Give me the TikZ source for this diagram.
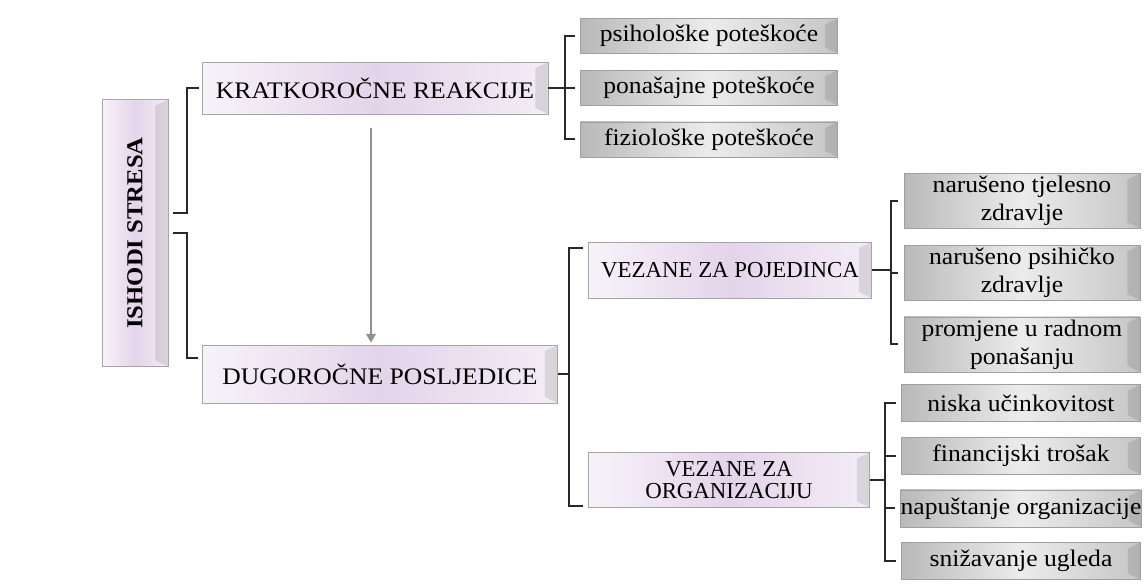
\documentclass[tikz,border=0pt]{standalone}
\usepackage{fontspec}
\setmainfont{Liberation Serif}[FakeStretch=1.08]
\newfontfamily\plainserif{Liberation Serif}
\usetikzlibrary{arrows.meta, positioning}
\definecolor{lav}{RGB}{228,212,234}
\definecolor{lavlight}{RGB}{247,243,249}
\definecolor{linegray}{RGB}{40,40,40}
\definecolor{flowgray}{RGB}{140,152,140}

\begin{document}
\begin{tikzpicture}[
    x=0.02cm, y=-0.02cm,
    font=\fontsize{13.5}{16}\selectfont,
    bevel/.style={path picture={\fill[black, opacity=0.1] (path picture bounding box.north east) -- ([xshift=-0.25cm,yshift=-0.12cm]path picture bounding box.north east) -- ([xshift=-0.25cm,yshift=0.12cm]path picture bounding box.south east) -- (path picture bounding box.south east) -- cycle;}},
    main/.style={draw=gray!70, left color=lavlight, right color=lavlight!80!lav, middle color=lav, align=center, inner sep=2pt, bevel},
    caps/.style={main, font=\plainserif\fontsize{13}{13}\selectfont},
    sub/.style={draw=gray!75, left color=gray!55, right color=gray!45, middle color=gray!15, align=center, inner ysep=1pt, inner xsep=0pt, bevel},
    small/.style={sub, minimum width=5.14cm, minimum height=0.7cm},
    tall/.style={sub, minimum width=4.72cm, minimum height=1.1cm},
    low/.style={sub, minimum width=4.78cm, minimum height=0.74cm},
    conn/.style={draw=linegray, line width=1.1pt},
    flow/.style={draw=flowgray, line width=1.7pt, -{Triangle[length=5pt,width=5.5pt]}},
]
    \fill[white] (0,0) rectangle (1144,584);
    \useasboundingbox (0,0) rectangle (1144,584);

    \node[main, minimum width=1.32cm, minimum height=5.34cm, font=\fontsize{13}{16}\selectfont] (ishodi) at (135,233) {\rotatebox{90}{\textbf{ISHODI STRESA}}};
    \node[main, minimum width=6.92cm, minimum height=1.04cm] (kratko) at (375,88) {KRATKOROČNE REAKCIJE};
    \node[main, minimum width=7.1cm, minimum height=1.16cm] (dugo) at (380,374) {DUGOROČNE POSLJEDICE};
    \node[caps, minimum width=5.66cm, minimum height=1.12cm] (vpoj) at (730,270) {VEZANE ZA POJEDINCA};
    \node[caps, minimum width=5.62cm, minimum height=1.1cm] (vorg) at (729,480) {VEZANE ZA\\ORGANIZACIJU};

    \node[small] (psih) at (709,36) {psihološke poteškoće};
    \node[small, below=0.32cm of psih] (pona) {ponašajne poteškoće};
    \node[small, below=0.32cm of pona] (fizi) {fiziološke poteškoće};

    \node[tall] (tjel) at (1022,201) {narušeno tjelesno\\zdravlje};
    \node[tall, below=0.32cm of tjel] (psihz) {narušeno psihičko\\zdravlje};
    \node[tall, below=0.32cm of psihz] (radn) {promjene u radnom\\ponašanju};

    \node[low] (nisk) at (1021,403) {niska učinkovitost};
    \node[low, below=0.3cm of nisk] (fina) {financijski trošak};
    \node[low, below=0.3cm of fina] (napu) {napuštanje organizacije};
    \node[low, below=0.3cm of napu] (sniz) {snižavanje ugleda};

    \coordinate (s1) at (187,213);
    \coordinate (s2) at (187,233);
    \coordinate (dtop) at ([yshift=-0.26cm]dugo.north west);
    \draw[conn, shorten <=0.1cm, shorten >=1.5pt] (ishodi.east |- s1) -- (s1) |- (kratko.west);
    \draw[conn, shorten <=0.1cm, shorten >=0.08cm] (ishodi.east |- s2) -- (s2) |- (dtop);

    \coordinate (ar) at ([xshift=-0.08cm]kratko.south);
    \draw[flow, shorten <=0.28cm, shorten >=0.04cm] (ar) -- (ar |- dugo.north);

    \coordinate (s3) at (565,88);
    \draw[conn] (kratko.east) -- (kratko.east -| s3);
    \draw[conn, shorten <=3pt, shorten >=3pt] (psih.west) -- (psih.west -| s3) -- (fizi.west -| s3) -- (fizi.west);
    \draw[conn, shorten >=3pt] (pona.west -| s3) -- (pona.west);

    \coordinate (s4) at (569,374);
    \coordinate (ptop) at ([yshift=-0.12cm]vpoj.north west);
    \coordinate (pbot) at ([yshift=0.04cm]vorg.south west);
    \draw[conn] (dugo.east) -- (dugo.east -| s4);
    \draw[conn, shorten <=3pt, shorten >=3pt] (ptop) -- (ptop -| s4) -- (pbot -| s4) -- (pbot);

    \coordinate (s5) at (891,272);
    \draw[conn] (vpoj.east) -- (vpoj.east -| s5);
    \draw[conn, shorten <=3pt, shorten >=3pt] (tjel.west) -- (tjel.west -| s5) -- (radn.west -| s5) -- (radn.west);
    \draw[conn, shorten >=3pt] (psihz.west -| s5) -- (psihz.west);

    \coordinate (s6) at (885,480);
    \draw[conn] (vorg.east) -- (vorg.east -| s6);
    \draw[conn, shorten <=3pt, shorten >=3pt] (nisk.west) -- (nisk.west -| s6) -- (sniz.west -| s6) -- (sniz.west);
    \foreach \n in {fina, napu}
        \draw[conn, shorten >=3pt] (\n.west -| s6) -- (\n.west);
\end{tikzpicture}
\end{document}
